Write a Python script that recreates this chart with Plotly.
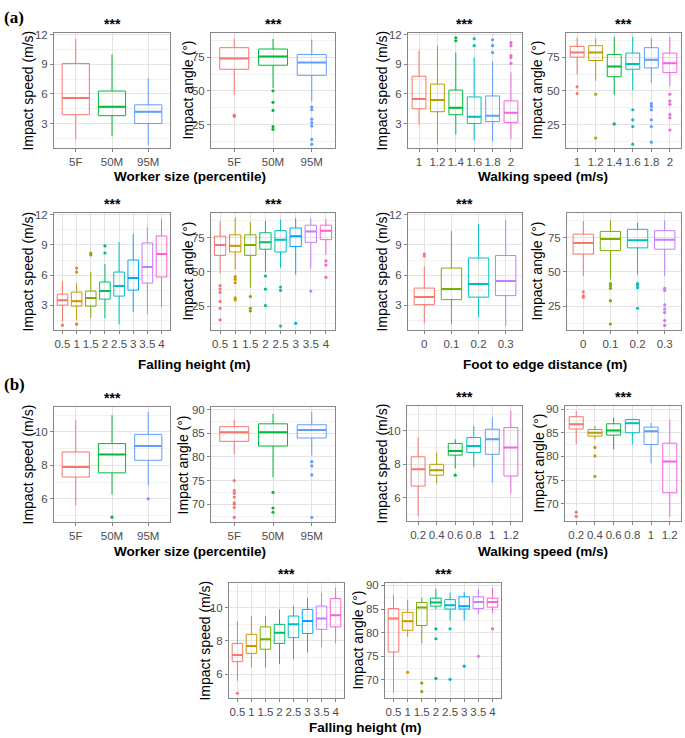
import plotly.graph_objects as go

W, H = 685, 738

PAL = {
    3: ["#F8766D", "#00BA38", "#619CFF"],
    4: ["#F8766D", "#7CAE00", "#00BFC4", "#C77CFF"],
    6: ["#F8766D", "#B79F00", "#00BA38", "#00BFC4", "#619CFF", "#F564E3"],
    8: ["#F8766D", "#CD9600", "#7CAE00", "#00BE67", "#00BFC4", "#00A9FF", "#C77CFF", "#FF61CC"],
}

# ---------------- categories ----------------
size_cats = ["5F", "50M", "95M"]
walk_a_cats = ["1", "1.2", "1.4", "1.6", "1.8", "2"]
height_cats = ["0.5", "1", "1.5", "2", "2.5", "3", "3.5", "4"]
foot_cats = ["0", "0.1", "0.2", "0.3"]
walk_b_cats = ["0.2", "0.4", "0.6", "0.8", "1", "1.2"]

# ---------------- (a) worker size ----------------
a_size_speed_q1 = [3.9, 3.8, 3.0]
a_size_speed_med = [5.6, 4.7, 4.2]
a_size_speed_q3 = [9.1, 6.3, 4.9]
a_size_speed_lo = [1.4, 1.7, 0.8]
a_size_speed_hi = [11.6, 10.0, 7.6]
a_size_speed_out = [[], [], []]

a_size_angle_q1 = [66, 69, 61.5]
a_size_angle_med = [74, 75.5, 71]
a_size_angle_q3 = [82, 81, 77]
a_size_angle_lo = [47, 52, 42]
a_size_angle_hi = [88.5, 88.5, 88]
a_size_angle_out = [[32, 31], [50, 41.5, 35.5, 23.5, 21.5], [38, 36, 29, 26.5, 24, 14, 10.5]]

# ---------------- (a) walking speed ----------------
a_walk_speed_q1 = [4.5, 4.2, 3.9, 3.0, 3.2, 3.1]
a_walk_speed_med = [5.5, 5.4, 4.6, 3.7, 3.8, 4.1]
a_walk_speed_q3 = [7.8, 7.0, 6.4, 5.7, 5.8, 5.3]
a_walk_speed_lo = [2.9, 0.9, 1.9, 1.3, 1.2, 1.4]
a_walk_speed_hi = [10.4, 10.9, 10.2, 9.7, 9.3, 8.2]
a_walk_speed_out = [[], [], [11.7, 11.4], [11.6, 10.9], [11.5, 10.9, 10.2], [11.2, 10.9, 9.9, 9.7, 9.1]]

a_walk_angle_q1 = [75, 72.5, 60.5, 66, 67, 63.5]
a_walk_angle_med = [78.5, 78.5, 68, 70, 73, 70.5]
a_walk_angle_q3 = [83, 83.5, 77, 78, 82, 78]
a_walk_angle_lo = [62, 57.5, 47, 50.5, 56, 53.5]
a_walk_angle_hi = [89.5, 89, 90, 90, 89, 90]
a_walk_angle_out = [[53, 48], [47.5, 15], [25.5], [36, 28.5, 23.5, 10.5],
                    [40.5, 38.5, 36, 28.5, 23.5, 12], [47.5, 42.5, 40, 32.5, 30, 21]]

# ---------------- (a) falling height ----------------
a_height_speed_q1 = [3.0, 2.9, 2.9, 3.6, 3.9, 4.5, 5.2, 5.8]
a_height_speed_med = [3.5, 3.4, 3.7, 4.4, 4.9, 5.7, 6.8, 8.1]
a_height_speed_q3 = [4.1, 4.3, 4.4, 5.3, 6.3, 7.5, 9.2, 9.9]
a_height_speed_lo = [1.4, 1.5, 1.7, 1.7, 1.1, 2.3, 2.1, 2.8]
a_height_speed_hi = [5.4, 5.2, 6.3, 7.1, 9.3, 10.1, 10.8, 11.6]
a_height_speed_out = [[1.0], [6.7, 6.3, 1.1], [8.2, 8.0], [8.9, 8.2], [], [], [], []]

a_height_angle_q1 = [62, 64.5, 62, 66.5, 64.5, 68.5, 71.5, 73.5]
a_height_angle_med = [69.5, 69, 69.5, 71.5, 73.5, 76, 79.5, 80]
a_height_angle_q3 = [76, 77, 77, 78.5, 80, 82, 84, 84]
a_height_angle_lo = [49, 51.5, 38.5, 50, 53, 48, 52.5, 62.5]
a_height_angle_hi = [87, 89.5, 86.5, 87, 88, 89, 89, 88.5]
a_height_angle_out = [[40, 37.5, 35, 28.5, 23.5, 15], [46.5, 44.5, 42, 31, 29.5], [32, 23.5, 21.5],
                      [47, 37.5, 25.5], [39, 36.5, 10.5], [12.5], [36], [58, 55, 46]]

# ---------------- (a) foot to edge ----------------
a_foot_speed_q1 = [3.05, 3.55, 3.8, 3.95]
a_foot_speed_med = [3.8, 4.6, 5.1, 5.4]
a_foot_speed_q3 = [4.7, 6.7, 7.7, 7.95]
a_foot_speed_lo = [1.2, 1.1, 1.8, 0.9]
a_foot_speed_hi = [6.9, 10.4, 11.1, 11.5]
a_foot_speed_out = [[8.1, 7.9], [], [], []]

a_foot_angle_q1 = [63, 65.5, 67.5, 66.5]
a_foot_angle_med = [71, 74, 73, 73.5]
a_foot_angle_q3 = [77.5, 79.5, 81, 80]
a_foot_angle_lo = [47, 44.5, 48, 47]
a_foot_angle_hi = [87, 87.5, 86, 87.5]
a_foot_angle_out = [[35.5, 32.5, 31.5], [41.5, 40, 38, 29, 12], [41.5, 40.5, 38.5, 23.5],
                    [38, 36.5, 26, 23, 20.5, 14.5, 11]]

# ---------------- (b) worker size ----------------
b_size_speed_q1 = [7.3, 7.55, 8.3]
b_size_speed_med = [7.9, 8.65, 9.15]
b_size_speed_q3 = [8.8, 9.3, 9.85]
b_size_speed_lo = [5.6, 6.25, 6.8]
b_size_speed_hi = [10.7, 11.0, 11.2]
b_size_speed_out = [[], [4.9], [6.0]]

b_size_angle_q1 = [83.3, 82.3, 84.0]
b_size_angle_med = [85.2, 85.2, 85.7]
b_size_angle_q3 = [86.4, 87.0, 86.8]
b_size_angle_lo = [80.6, 75.7, 80.3]
b_size_angle_hi = [87.8, 89.1, 89.6]
b_size_angle_out = [[75, 72.9, 72.3, 71.5, 70.3, 70.0, 69.3, 67.2], [72.5, 69.2, 68.3], [79.0, 78.1, 76.2, 67.2]]

# ---------------- (b) walking speed ----------------
b_walk_speed_q1 = [6.7, 7.35, 8.55, 8.7, 8.6, 7.3]
b_walk_speed_med = [7.7, 7.65, 8.8, 9.1, 9.5, 9.0]
b_walk_speed_q3 = [8.45, 8.0, 9.25, 9.6, 10.1, 10.2]
b_walk_speed_lo = [4.9, 6.85, 7.75, 7.85, 6.9, 6.25]
b_walk_speed_hi = [9.6, 8.7, 9.5, 10.3, 10.8, 11.2]
b_walk_speed_out = [[], [], [7.35], [], [], []]

b_walk_angle_q1 = [85.8, 84.3, 84.5, 85.0, 82.5, 72.3]
b_walk_angle_med = [86.8, 85.0, 85.5, 87.0, 85.3, 78.9]
b_walk_angle_q3 = [88.4, 85.7, 86.9, 87.8, 86.2, 82.8]
b_walk_angle_lo = [82.6, 83.6, 81.5, 82.5, 78.5, 67.2]
b_walk_angle_hi = [89.6, 86.4, 88.2, 88.0, 87.1, 87.8]
b_walk_angle_out = [[68.2, 67.3], [81.9, 80.1, 75.8], [], [], [], []]

# ---------------- (b) falling height ----------------
b_height_speed_q1 = [6.75, 7.25, 7.5, 7.85, 8.2, 8.45, 8.7, 8.85]
b_height_speed_med = [7.15, 7.7, 8.1, 8.5, 9.0, 9.2, 9.35, 9.55]
b_height_speed_q3 = [7.85, 8.4, 8.85, 9.0, 9.5, 9.9, 10.1, 10.55]
b_height_speed_lo = [5.6, 6.4, 6.4, 6.6, 6.9, 7.3, 7.65, 7.85]
b_height_speed_hi = [9.2, 9.5, 9.5, 9.9, 10.1, 10.6, 10.9, 11.2]
b_height_speed_out = [[4.85], [], [], [], [], [], [], []]

b_height_angle_q1 = [75.9, 80.5, 81.5, 85.6, 85.0, 85.0, 85.1, 85.4]
b_height_angle_med = [83.0, 82.4, 85.3, 86.4, 85.8, 85.6, 86.5, 86.5]
b_height_angle_q3 = [85.1, 84.3, 86.4, 87.3, 87.0, 87.6, 87.6, 87.3]
b_height_angle_lo = [67.3, 79.1, 77.7, 85.0, 82.6, 82.6, 83.9, 84.1]
b_height_angle_hi = [88.1, 87.0, 87.4, 89.3, 88.5, 88.5, 89.3, 89.5]
b_height_angle_out = [[], [71.6], [69.3, 67.5], [80.8, 78.7, 70.3], [80.8, 70.1], [72.9], [75.0], [80.8]]

SPEED_T = "Impact speed (m/s)"
ANGLE_T = "Impact angle (°)"

# panel: (cats, q1, med, q3, lo, hi, out, ytitle, yrange, dtick, px box [x0,x1,y0,y1], stars, ytitle px x)
panels = [
    (size_cats, a_size_speed_q1, a_size_speed_med, a_size_speed_q3, a_size_speed_lo, a_size_speed_hi, a_size_speed_out,
     SPEED_T, [0.5, 12.2], 3, [54, 170, 29, 145], True, 28),
    (size_cats, a_size_angle_q1, a_size_angle_med, a_size_angle_q3, a_size_angle_lo, a_size_angle_hi, a_size_angle_out,
     ANGLE_T, [7.5, 93], 25, [211, 335, 29, 145], True, 188),
    (walk_a_cats, a_walk_speed_q1, a_walk_speed_med, a_walk_speed_q3, a_walk_speed_lo, a_walk_speed_hi, a_walk_speed_out,
     SPEED_T, [0.5, 12.2], 3, [408, 522, 29, 145], True, 382),
    (walk_a_cats, a_walk_angle_q1, a_walk_angle_med, a_walk_angle_q3, a_walk_angle_lo, a_walk_angle_hi, a_walk_angle_out,
     ANGLE_T, [7.5, 93], 25, [566, 681, 29, 145], True, 537),
    (height_cats, a_height_speed_q1, a_height_speed_med, a_height_speed_q3, a_height_speed_lo, a_height_speed_hi, a_height_speed_out,
     SPEED_T, [0.5, 12.2], 3, [54, 170, 210, 328], True, 28),
    (height_cats, a_height_angle_q1, a_height_angle_med, a_height_angle_q3, a_height_angle_lo, a_height_angle_hi, a_height_angle_out,
     ANGLE_T, [7.5, 93], 25, [211, 335, 210, 328], True, 188),
    (foot_cats, a_foot_speed_q1, a_foot_speed_med, a_foot_speed_q3, a_foot_speed_lo, a_foot_speed_hi, a_foot_speed_out,
     SPEED_T, [0.5, 12.2], 3, [408, 522, 210, 328], True, 382),
    (foot_cats, a_foot_angle_q1, a_foot_angle_med, a_foot_angle_q3, a_foot_angle_lo, a_foot_angle_hi, a_foot_angle_out,
     ANGLE_T, [7.5, 93], 25, [567, 681, 210, 328], False, 537),
    (size_cats, b_size_speed_q1, b_size_speed_med, b_size_speed_q3, b_size_speed_lo, b_size_speed_hi, b_size_speed_out,
     SPEED_T, [4.6, 11.5], 2, [54, 170, 405, 521], True, 28),
    (size_cats, b_size_angle_q1, b_size_angle_med, b_size_angle_q3, b_size_angle_lo, b_size_angle_hi, b_size_angle_out,
     ANGLE_T, [66.2, 90.6], 5, [211, 335, 405, 521], False, 183),
    (walk_b_cats, b_walk_speed_q1, b_walk_speed_med, b_walk_speed_q3, b_walk_speed_lo, b_walk_speed_hi, b_walk_speed_out,
     SPEED_T, [4.6, 11.5], 2, [407, 522, 404, 520], True, 382),
    (walk_b_cats, b_walk_angle_q1, b_walk_angle_med, b_walk_angle_q3, b_walk_angle_lo, b_walk_angle_hi, b_walk_angle_out,
     ANGLE_T, [66.3, 90.7], 5, [565, 681, 404, 520], True, 539),
    (height_cats, b_height_speed_q1, b_height_speed_med, b_height_speed_q3, b_height_speed_lo, b_height_speed_hi, b_height_speed_out,
     SPEED_T, [4.55, 11.5], 2, [229, 344, 582, 698], True, 205),
    (height_cats, b_height_angle_q1, b_height_angle_med, b_height_angle_q3, b_height_angle_lo, b_height_angle_hi, b_height_angle_out,
     ANGLE_T, [66.1, 90.55], 5, [385, 501, 582, 698], True, 358),
]

# shared x-axis titles: (text, center px x, px y)
xtitles = [
    ("Worker size (percentile)", 190, 173),
    ("Walking speed (m/s)", 543, 173),
    ("Falling height (m)", 194, 362),
    ("Foot to edge distance (m)", 545, 362),
    ("Worker size (percentile)", 190, 550),
    ("Walking speed (m/s)", 543, 550),
    ("Falling height (m)", 366, 727),
]

FONT = "Liberation Sans, Arial, sans-serif"
BORDER = "#858585"
GRID = "#e3e3e3"
MINOR = "#f1f1f1"

fig = go.Figure()
layout = dict(width=W, height=H, margin=dict(l=0, r=0, t=0, b=0),
              paper_bgcolor="white", plot_bgcolor="white", showlegend=False,
              font=dict(family=FONT, color="#000"))
annotations = []

for k, (cats, q1, med, q3, lo, hi, out, ytitle, yr, dt, box, stars, ytx) in enumerate(panels, start=1):
    xa = "x" if k == 1 else f"x{k}"
    ya = "y" if k == 1 else f"y{k}"
    n = len(cats)
    cols = PAL[n]
    xs = list(range(1, n + 1))
    for i in range(n):
        fig.add_trace(go.Box(
            x=[xs[i]], q1=[q1[i]], median=[med[i]], q3=[q3[i]],
            lowerfence=[lo[i]], upperfence=[hi[i]],
            width=0.75, whiskerwidth=0, boxpoints=False,
            line=dict(color=cols[i], width=1), fillcolor="rgba(255,255,255,0)",
            hoverinfo="skip", xaxis=xa, yaxis=ya))
        # thicker median bar (ggplot style)
        fig.add_trace(go.Scatter(
            x=[xs[i] - 0.375, xs[i] + 0.375], y=[med[i], med[i]], mode="lines",
            line=dict(color=cols[i], width=2), hoverinfo="skip", xaxis=xa, yaxis=ya))
        if out[i]:
            fig.add_trace(go.Scatter(
                x=[xs[i]] * len(out[i]), y=out[i], mode="markers",
                marker=dict(color=cols[i], size=3.2), hoverinfo="skip", xaxis=xa, yaxis=ya))
    x0, x1, y0, y1 = box
    xk = "xaxis" if k == 1 else f"xaxis{k}"
    yk = "yaxis" if k == 1 else f"yaxis{k}"
    layout[xk] = dict(domain=[x0 / W, x1 / W], anchor=ya, range=[0.4, n + 0.6],
                      tickmode="array", tickvals=xs, ticktext=cats,
                      showgrid=True, gridcolor=GRID, gridwidth=1, zeroline=False,
                      showline=True, mirror=True, linecolor=BORDER, linewidth=1,
                      ticks="outside", ticklen=3, tickcolor=BORDER,
                      tickfont=dict(size=11.5, color="#4d4d4d"))
    layout[yk] = dict(domain=[1 - y1 / H, 1 - y0 / H], anchor=xa, range=yr,
                      tickmode="linear", tick0=0, dtick=dt,
                      minor=dict(dtick=dt / 2, tick0=0, showgrid=True, gridcolor=MINOR, gridwidth=1),
                      showgrid=True, gridcolor=GRID, gridwidth=1, zeroline=False,
                      showline=True, mirror=True, linecolor=BORDER, linewidth=1,
                      ticks="outside", ticklen=3, tickcolor=BORDER,
                      tickfont=dict(size=11.5, color="#4d4d4d"))
    annotations.append(dict(text=ytitle, xref="paper", yref="paper",
                            x=ytx / W, y=1 - (y0 + y1) / 2 / H, showarrow=False, textangle=-90,
                            xanchor="center", yanchor="middle",
                            font=dict(size=14, color="#000")))
    if stars:
        annotations.append(dict(text="<b>***</b>", xref="paper", yref="paper",
                                x=(x0 + x1) / 2 / W, y=1 - (y0 - 9) / H, showarrow=False,
                                xanchor="center", yanchor="middle",
                                font=dict(size=14, color="#000")))

for text, cx, cy in xtitles:
    annotations.append(dict(text=f"<b>{text}</b>", xref="paper", yref="paper",
                            x=cx / W, y=1 - cy / H, showarrow=False,
                            xanchor="center", yanchor="middle",
                            font=dict(size=13.5, color="#000")))

for text, cy in [("(a)", 14), ("(b)", 383)]:
    annotations.append(dict(text=f"<b>{text}</b>", xref="paper", yref="paper",
                            x=2 / W, y=1 - cy / H, showarrow=False,
                            xanchor="left", yanchor="middle",
                            font=dict(size=17, color="#000", family="Liberation Serif, Times New Roman, serif")))

layout["annotations"] = annotations
fig.update_layout(**layout)
fig.write_html("out.html", config={"displayModeBar": False},
               post_script="document.body.style.margin='0';document.body.style.padding='0';")
